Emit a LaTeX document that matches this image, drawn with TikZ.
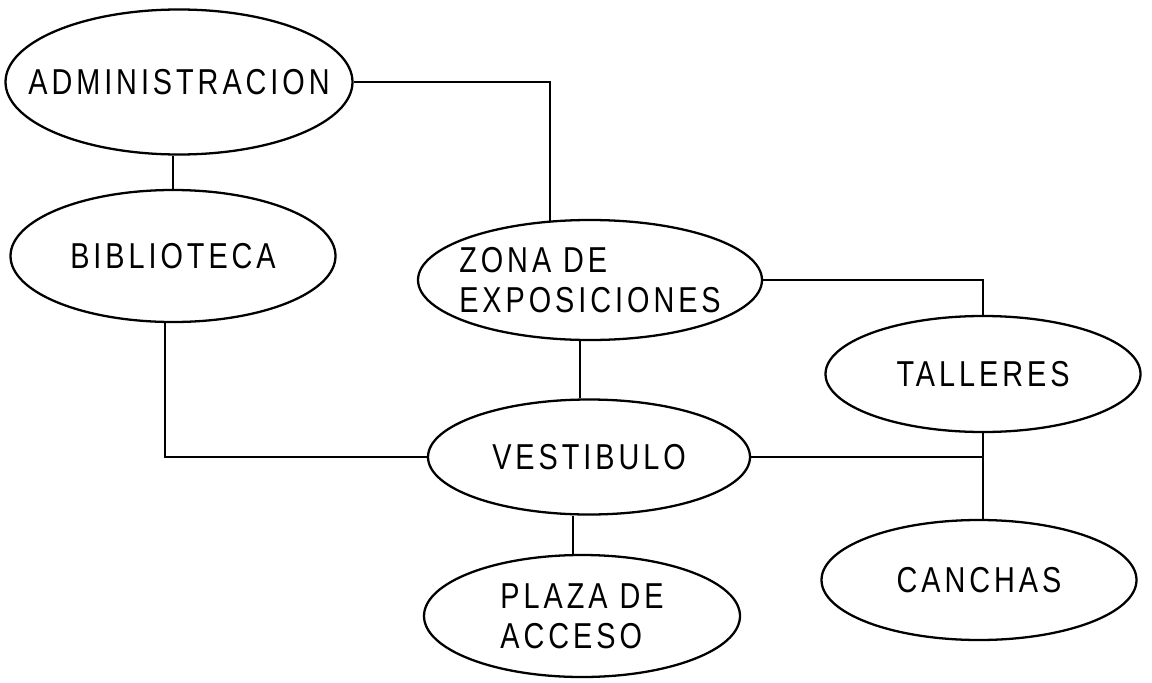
\documentclass[tikz,border=0pt]{standalone}
\usepackage{fontspec}
\usetikzlibrary{shapes.geometric}
\newfontfamily\zonefont[FakeStretch=0.8,LetterSpace=11]{Liberation Sans}
\tikzset{
  zone/.style={draw,ellipse,line width=1.3pt,inner xsep=-4cm,inner ysep=-1.5cm,align=left,font=\zonefont\fontsize{20.5}{23}\selectfont},
  link/.style={draw=black,line width=1pt}
}
\begin{document}
\begin{tikzpicture}

\useasboundingbox (0,0) rectangle (23.04,13.64);

\node[zone,minimum width=6.94cm,minimum height=2.9cm](administracion) at (3.58,12.0) {ADMINISTRACION};
\node[zone,minimum width=6.5cm,minimum height=2.64cm](biblioteca) at (3.46,8.52) {BIBLIOTECA};
\node[zone,minimum width=6.88cm,minimum height=2.4cm](zona de exposiciones) at (11.8,8.04) {ZONA DE\\EXPOSICIONES};
\node[zone,minimum width=6.3cm,minimum height=2.32cm](talleres) at (19.66,6.16) {TALLERES};

\node[zone,minimum width=6.44cm,minimum height=2.3cm](vestibulo) at (11.78,4.5) {VESTIBULO};
\node[zone,minimum width=6.3cm,minimum height=2.4cm](canchas) at (19.58,2.04) {CANCHAS};
\node[zone,minimum width=6.32cm,minimum height=2.44cm](plaza de acceso) at (11.64,1.32) {PLAZA DE\\ACCESO};

\draw[link] (administracion.east) -| (zona de exposiciones.124);
\draw[link] (biblioteca.north) -- (biblioteca.north |- administracion.south);
\draw[link] (biblioteca.263) |- (vestibulo.west);
\draw[link] (zona de exposiciones.261) -- (zona de exposiciones.261 |- vestibulo.north);
\draw[link] (zona de exposiciones.east) -| (talleres.north);

\draw[link] (vestibulo.east) -- (vestibulo.east -| talleres.south);
\draw[link] (talleres.south) -- (talleres.south |- canchas.north);
\draw[link] (plaza de acceso.98) -- (plaza de acceso.98 |- vestibulo.south);

\end{tikzpicture}
\end{document}
